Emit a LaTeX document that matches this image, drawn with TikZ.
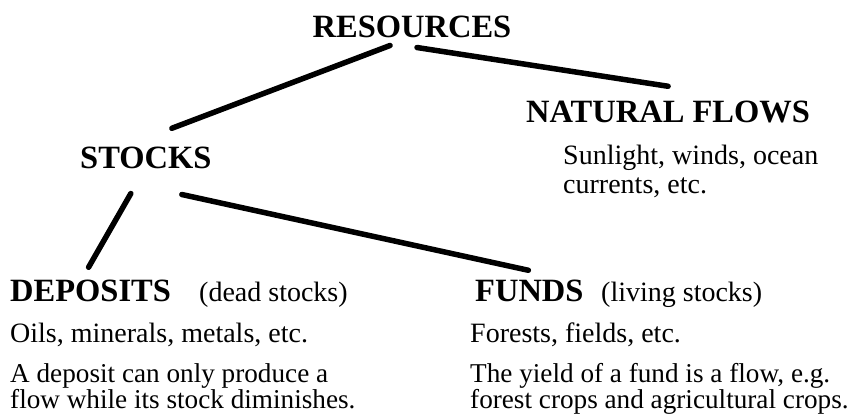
\documentclass[tikz,border=0pt]{standalone}
\usepackage{fontspec}
\setmainfont{Liberation Serif}
\usetikzlibrary{calc}
\begin{document}
\begin{tikzpicture}[x=1pt,y=-1pt,
  head/.style={font=\fontsize{32.5}{34}\selectfont\bfseries, inner sep=0pt, anchor=base west},
  body/.style={font=\fontsize{28}{30}\selectfont, inner sep=0pt, anchor=base west},
  desc/.style={font=\fontsize{27.2}{29}\selectfont, inner sep=0pt, anchor=base west},
  link/.style={line width=5.5pt, line cap=round}]
\useasboundingbox (0,0) rectangle (867,419);
% headings
\node[head, anchor=base] (res) at (412,38) {RESOURCES};
\node[head] (nf) at (526,123) {NATURAL FLOWS};
\node[head] (stk) at (80,169) {STOCKS};
\node[head] (dep) at (10,302) {DEPOSITS};
\node[head] (fund) at (475,302) {FUNDS};
% side notes
\node[body] (dead) at (199,302) {(dead stocks)};
\node[body] (living) at (601,302) {(living stocks)};
% descriptions
\node[body] (sun1) at (563,165) {Sunlight, winds, ocean};
\node[body] (sun2) at (563,194) {currents, etc.};
\node[body] (oils) at (10,343) {Oils, minerals, metals, etc.};
\node[desc] (dep1) at (10,382) {A deposit can only produce a};
\node[desc] (dep2) at (10,408) {flow while its stock diminishes.};
\node[body] (for) at (470,343) {Forests, fields, etc.};
\node[desc] (fund1) at (470,382) {The yield of a fund is a flow, e.g.};
\node[desc] (fund2) at (470,408) {forest crops and agricultural crops.};
% connectors
\draw[link] ($(res.south)+(-22,7)$) -- ($(stk.north)+(26,-19)$);
\draw[link] ($(res.south)+(5,9)$) -- ($(nf.north)+(0,-15)$);
\draw[link] ($(stk.south)+(-15,24)$) -- ($(dep.north)+(-2,-13)$);
\draw[link] ($(stk.south)+(36,25)$) -- ($(fund.north)+(-1,-10)$);
\end{tikzpicture}
\end{document}
